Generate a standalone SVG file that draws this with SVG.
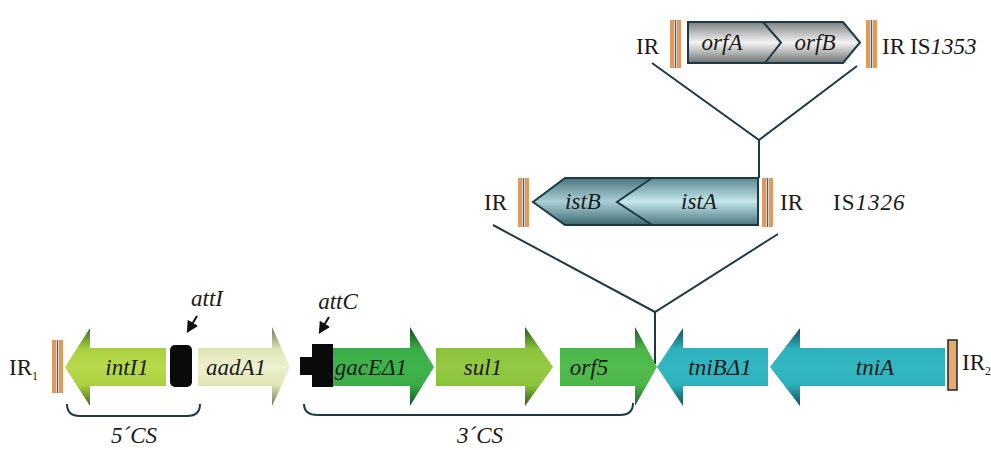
<svg xmlns="http://www.w3.org/2000/svg" width="991" height="450" viewBox="0 0 991 450">
  <style>
    .gene { font-family: "Liberation Serif", "Times New Roman", serif; font-style: italic; font-size: 23px; fill: #1a1a1a; text-anchor: middle; }
    .lbl { font-family: "Liberation Serif", "Times New Roman", serif; font-size: 23px; fill: #1a1a1a; }
    .it { font-style: italic; }
    .sub { font-size: 12px; }
    .line { fill: none; stroke: #1d3a44; stroke-width: 2; }
    .box { stroke: #1d3a44; stroke-width: 2; stroke-linejoin: miter; }
    .ir { fill: #e39a58; }
    .irsep { stroke: #5a5a5a; stroke-width: 1.5; }
  </style>
  <defs>
    <linearGradient id="gInt" gradientUnits="userSpaceOnUse" x1="0" y1="328" x2="0" y2="406">
      <stop offset="0" stop-color="#3c6c16"/><stop offset="0.27" stop-color="#a9d03e"/>
      <stop offset="0.5" stop-color="#b8da4e"/><stop offset="0.73" stop-color="#a9d03e"/>
      <stop offset="1" stop-color="#3c6c16"/>
    </linearGradient>
    <linearGradient id="gAad" gradientUnits="userSpaceOnUse" x1="0" y1="328" x2="0" y2="406">
      <stop offset="0" stop-color="#6e7b5a"/><stop offset="0.27" stop-color="#dfe6b4"/>
      <stop offset="0.5" stop-color="#eef0cf"/><stop offset="0.73" stop-color="#dfe6b4"/>
      <stop offset="1" stop-color="#6e7b5a"/>
    </linearGradient>
    <linearGradient id="gGac" gradientUnits="userSpaceOnUse" x1="0" y1="328" x2="0" y2="406">
      <stop offset="0" stop-color="#174e22"/><stop offset="0.27" stop-color="#39ad47"/>
      <stop offset="0.5" stop-color="#40b24b"/><stop offset="0.73" stop-color="#39ad47"/>
      <stop offset="1" stop-color="#174e22"/>
    </linearGradient>
    <linearGradient id="gSul" gradientUnits="userSpaceOnUse" x1="0" y1="328" x2="0" y2="406">
      <stop offset="0" stop-color="#2d5a18"/><stop offset="0.27" stop-color="#8bc43c"/>
      <stop offset="0.5" stop-color="#94c943"/><stop offset="0.73" stop-color="#8bc43c"/>
      <stop offset="1" stop-color="#2d5a18"/>
    </linearGradient>
    <linearGradient id="gOrf" gradientUnits="userSpaceOnUse" x1="0" y1="328" x2="0" y2="406">
      <stop offset="0" stop-color="#1c5e27"/><stop offset="0.27" stop-color="#4bb748"/>
      <stop offset="0.5" stop-color="#52bb4d"/><stop offset="0.73" stop-color="#4bb748"/>
      <stop offset="1" stop-color="#1c5e27"/>
    </linearGradient>
    <linearGradient id="gTni" gradientUnits="userSpaceOnUse" x1="0" y1="328" x2="0" y2="406">
      <stop offset="0" stop-color="#134e56"/><stop offset="0.27" stop-color="#2cb2bd"/>
      <stop offset="0.5" stop-color="#33b6c0"/><stop offset="0.73" stop-color="#2cb2bd"/>
      <stop offset="1" stop-color="#134e56"/>
    </linearGradient>
    <linearGradient id="gIstB" gradientUnits="userSpaceOnUse" x1="0" y1="178" x2="0" y2="225">
      <stop offset="0" stop-color="#4a747c"/><stop offset="0.5" stop-color="#a9d0d6"/>
      <stop offset="1" stop-color="#3e6870"/>
    </linearGradient>
    <linearGradient id="gIstA" gradientUnits="userSpaceOnUse" x1="0" y1="178" x2="0" y2="225">
      <stop offset="0" stop-color="#5a8890"/><stop offset="0.5" stop-color="#c4e7ec"/>
      <stop offset="1" stop-color="#4a767e"/>
    </linearGradient>
    <linearGradient id="gOrfAB" gradientUnits="userSpaceOnUse" x1="0" y1="22" x2="0" y2="63">
      <stop offset="0" stop-color="#7d8080"/><stop offset="0.5" stop-color="#f4f4f4"/>
      <stop offset="1" stop-color="#6f7272"/>
    </linearGradient>
    <marker id="ptr" viewBox="0 0 10 10" refX="8" refY="5" markerWidth="6" markerHeight="6" orient="auto">
      <path d="M0,0 L10,5 L0,10 z" fill="#111"/>
    </marker>
  </defs>

  <!-- connectors: insertion lines and cassette brackets -->
  <g id="connectors">
    <polyline class="line" points="652,63 759,140 857,66"/>
    <line class="line" x1="759" y1="140" x2="759" y2="178"/>
    <polyline class="line" points="493,225 655,312 778,234"/>
    <line class="line" x1="655" y1="312" x2="655" y2="364"/>
    <path class="line" d="M67,404 Q67,416 80,416 L187,416 Q200,416 200,404"/>
    <path class="line" d="M304,404 Q304,415 318,415 L620,415 Q633,415 633,403"/>
    <line x1="197" y1="316" x2="188" y2="331" stroke="#111" stroke-width="2" marker-end="url(#ptr)"/>
    <line x1="329" y1="317" x2="320" y2="332" stroke="#111" stroke-width="2" marker-end="url(#ptr)"/>
  </g>

  <!-- IS1353 -->
  <g id="is1353">
    <text class="lbl" x="636" y="54" font-size="24">IR</text>
    <rect class="ir" x="670" y="20" width="4" height="48"/>
    <rect class="ir" x="677" y="20" width="4" height="48"/>
    <line class="irsep" x1="675.5" y1="20" x2="675.5" y2="68"/>
    <polygon class="box" fill="url(#gOrfAB)" points="688,22 843,22 860,42.5 843,63 688,63"/>
    <polyline class="line" points="763,22 781,42.5 765,63"/>
    <text class="gene" x="722" y="50">orfA</text>
    <text class="gene" x="815" y="50">orfB</text>
    <rect class="ir" x="866" y="20" width="4" height="48"/>
    <rect class="ir" x="873" y="20" width="4" height="48"/>
    <line class="irsep" x1="871.5" y1="20" x2="871.5" y2="68"/>
    <text class="lbl" x="882" y="54" font-size="24">IR</text>
    <text class="lbl" x="910" y="54" font-size="24">IS<tspan class="it">1353</tspan></text>
  </g>

  <!-- IS1326 -->
  <g id="is1326">
    <text class="lbl" x="484" y="210" font-size="24">IR</text>
    <rect class="ir" x="518" y="178" width="4" height="49"/>
    <rect class="ir" x="525" y="178" width="4" height="49"/>
    <line class="irsep" x1="523.5" y1="178" x2="523.5" y2="227"/>
    <polygon fill="url(#gIstB)" points="533,202 565,178 652,178 617,202 652,225 565,225"/>
    <polygon fill="url(#gIstA)" points="652,178 758,178 758,225 652,225 617,202"/>
    <polygon class="box" fill="none" points="533,202 565,178 758,178 758,225 565,225"/>
    <polyline class="line" points="652,178 617,202 652,225"/>
    <text class="gene" x="583" y="209">istB</text>
    <text class="gene" x="699" y="209">istA</text>
    <rect class="ir" x="762" y="178" width="4" height="49"/>
    <rect class="ir" x="769" y="178" width="4" height="49"/>
    <line class="irsep" x1="767.5" y1="178" x2="767.5" y2="227"/>
    <text class="lbl" x="780" y="210" font-size="24">IR</text>
    <text class="lbl" x="833" y="210" font-size="24" letter-spacing="1">IS<tspan class="it">1326</tspan></text>
  </g>

  <!-- left inverted repeat -->
  <g id="ir1">
    <text class="lbl" x="9" y="375" font-size="24">IR<tspan class="sub" dy="5">1</tspan></text>
    <rect class="ir" x="52" y="340" width="4" height="53"/>
    <rect class="ir" x="59" y="340" width="4" height="53"/>
    <line class="irsep" x1="57.5" y1="340" x2="57.5" y2="393"/>
  </g>

  <g id="intI1">
    <polygon fill="url(#gInt)" points="65,367 90,328 90,348 166,348 166,386 90,386 90,406"/>
    <text class="gene" x="127" y="375">intI1</text>
  </g>

  <g id="attI">
    <rect x="170" y="345" width="22" height="42" rx="5" fill="#0a0a0a"/>
    <text class="gene" x="207" y="306" font-size="21">attI</text>
  </g>

  <g id="aadA1">
    <polygon fill="url(#gAad)" points="198,348 272,348 272,327 290,367 272,406 272,386 198,386"/>
    <text class="gene" x="236" y="375">aadA1</text>
  </g>

  <g id="attC">
    <rect x="312" y="344" width="21" height="43" fill="#0a0a0a"/>
    <rect x="300" y="357" width="13" height="18" fill="#0a0a0a"/>
    <text class="gene" x="338" y="309" font-size="21">attC</text>
  </g>

  <g id="gacE">
    <polygon fill="url(#gGac)" points="333,348 410,348 410,327 434,367 410,406 410,386 333,386"/>
    <text class="gene" x="371" y="375">gacEΔ1</text>
  </g>

  <g id="sul1">
    <polygon fill="url(#gSul)" points="436,348 525,348 525,327 553,367 525,406 525,386 436,386"/>
    <text class="gene" x="483" y="375">sul1</text>
  </g>

  <g id="orf5">
    <polygon fill="url(#gOrf)" points="560,348 635,348 635,327 657,367 635,406 635,386 560,386"/>
    <text class="gene" x="589" y="375">orf5</text>
  </g>

  <g id="tniB">
    <polygon fill="url(#gTni)" points="657,367 683,328 683,348 768,348 768,386 683,386 683,406"/>
    <text class="gene" x="720" y="375">tniBΔ1</text>
  </g>

  <g id="tniA">
    <polygon fill="url(#gTni)" points="770,367 800,328 800,348 945,348 945,386 800,386 800,406"/>
    <text class="gene" x="875" y="375">tniA</text>
  </g>

  <!-- right inverted repeat -->
  <g id="ir2">
    <rect x="948" y="340" width="9" height="50" fill="#e8a870" stroke="#222" stroke-width="1.5"/>
    <text class="lbl" x="962" y="370" font-size="24">IR<tspan class="sub" dy="5">2</tspan></text>
  </g>

  <!-- cassette labels -->
  <g id="cs5">
    <text class="gene" x="134" y="443" font-size="21">5´CS</text>
  </g>
  <g id="cs3">
    <text class="gene" x="480" y="443" font-size="21">3´CS</text>
  </g>
</svg>
